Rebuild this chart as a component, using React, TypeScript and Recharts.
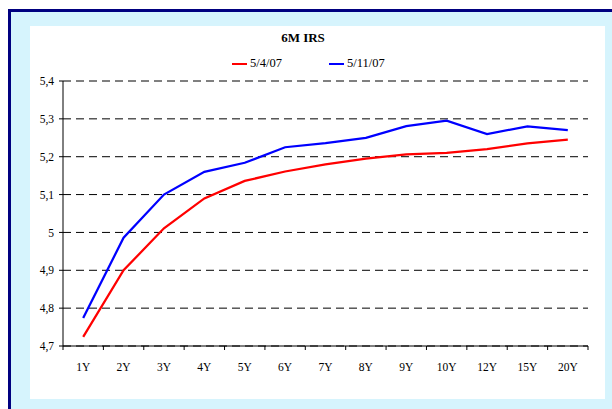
import React from "react";
import { CartesianGrid, Line, LineChart, XAxis, YAxis } from "recharts";

const tenors = ["1Y", "2Y", "3Y", "4Y", "5Y", "6Y", "7Y", "8Y", "9Y", "10Y", "12Y", "15Y", "20Y"];
const may4 = [4.724, 4.9, 5.011, 5.09, 5.136, 5.161, 5.18, 5.195, 5.206, 5.21, 5.22, 5.235, 5.245];
const may11 = [4.774, 4.986, 5.1, 5.16, 5.184, 5.225, 5.236, 5.25, 5.281, 5.295, 5.26, 5.28, 5.27];
const yTicks = [4.7, 4.8, 4.9, 5, 5.1, 5.2, 5.3, 5.4];

const series = [
  { key: "may4", name: "5/4/07", color: "#ff0000" },
  { key: "may11", name: "5/11/07", color: "#0000ff" }
];

const data = tenors.map((t, i) => ({ tenor: t, may4: may4[i], may11: may11[i] }));

const font = "'Liberation Serif', 'Times New Roman', serif";
const bandWidth = 525 / tenors.length;

function TenorTick(props: any) {
  const { x, y, payload, index } = props;
  const axisY = y - 14;
  const left = x - bandWidth / 2;
  return (
    <g>
      <line x1={left} x2={left} y1={axisY} y2={axisY + 4} stroke="#000" />
      {index === tenors.length - 1 && (
        <line x1={x + bandWidth / 2} x2={x + bandWidth / 2} y1={axisY} y2={axisY + 4} stroke="#000" />
      )}
      <text x={x} y={y} dy={11} textAnchor="middle" fill="#000" fontSize={11.5} fontFamily={font}>
        {payload.value}
      </text>
    </g>
  );
}

export default function App() {
  return (
    <div style={{ position: "absolute", left: 0, top: 0, width: 612, height: 409, background: "#fff", overflow: "hidden" }}>
      <div
        style={{
          position: "absolute",
          left: 8,
          top: 9,
          width: 604,
          height: 400,
          boxSizing: "border-box",
          borderTop: "3px solid #000080",
          borderLeft: "3px solid #000080",
          background: "#d6f4fd"
        }}
      />
      <div style={{ position: "absolute", left: 30, top: 26, width: 575, height: 373, background: "#fff" }}>
        <div
          style={{
            position: "absolute",
            left: 0,
            width: 546,
            top: 4,
            textAlign: "center",
            fontFamily: font,
            fontWeight: 700,
            fontSize: 13
          }}
        >
          6M IRS
        </div>
        <div style={{ position: "absolute", top: 30, left: 202, display: "flex", fontFamily: font, fontSize: 12.5 }}>
          {series.map((s) => (
            <div key={s.key} style={{ display: "flex", alignItems: "center", width: 97 }}>
              <span style={{ display: "inline-block", width: 15, height: 2, background: s.color, marginRight: 3 }} />
              <span>{s.name}</span>
            </div>
          ))}
        </div>
        <LineChart width={575} height={373} data={data} margin={{ top: 55, right: 17, bottom: 0, left: 0 }}>
          <CartesianGrid vertical={false} stroke="#000" strokeDasharray="8 5" />
          <XAxis
            dataKey="tenor"
            axisLine={{ stroke: "#000" }}
            tickLine={false}
            tickSize={4}
            tickMargin={10}
            height={53}
            interval={0}
            padding={{ left: bandWidth / 2, right: bandWidth / 2 }}
            tick={<TenorTick />}
          />
          <YAxis
            type="number"
            domain={[4.7, 5.4]}
            ticks={yTicks}
            width={33}
            axisLine={{ stroke: "#000" }}
            tickLine={{ stroke: "#000" }}
            tickSize={4}
            tickMargin={5}
            tickFormatter={(v: number) => String(v).replace(".", ",")}
            tick={{ fill: "#000", fontSize: 11.5, fontFamily: font }}
          />
          {series.map((s) => (
            <Line
              key={s.key}
              dataKey={s.key}
              name={s.name}
              stroke={s.color}
              strokeWidth={2.25}
              dot={false}
              type="linear"
              isAnimationActive={false}
            />
          ))}
        </LineChart>
      </div>
    </div>
  );
}
